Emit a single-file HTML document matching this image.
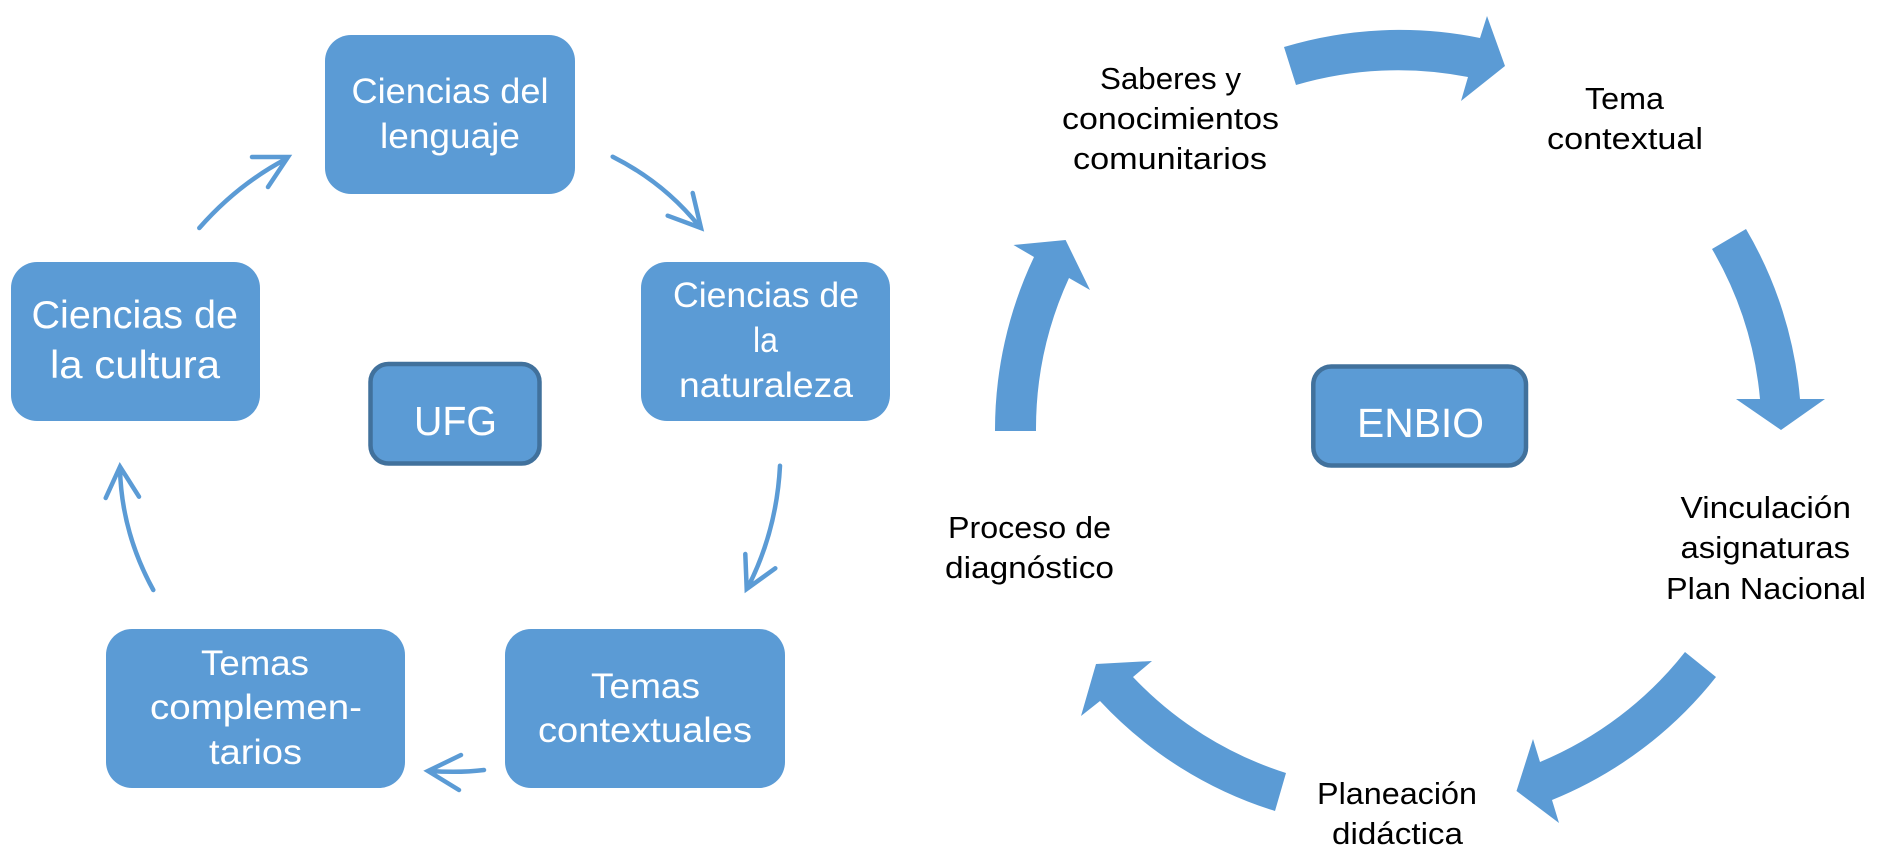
<!DOCTYPE html>
<html lang="es">
<head>
<meta charset="utf-8">
<title>UFG y ENBIO</title>
<style>
html,body{margin:0;padding:0;background:#fff;width:1889px;height:856px;overflow:hidden}
svg{display:block}
text{font-family:"Liberation Sans",sans-serif}
.w{fill:#fff;font-size:35.5px}
.b{fill:#000;font-size:31px}
.thin{fill:none;stroke:#5b9bd5;stroke-width:4.5;stroke-linecap:round;stroke-linejoin:miter}
</style>
</head>
<body>
<svg width="1889" height="856" viewBox="0 0 1889 856" xmlns="http://www.w3.org/2000/svg">
<rect width="1889" height="856" fill="#fff"/>

<!-- left cycle boxes -->
<g fill="#5b9bd5">
<rect x="325" y="35" width="250" height="159" rx="26" ry="26"/>
<rect x="11" y="262" width="249" height="159" rx="26" ry="26"/>
<rect x="641" y="262" width="249" height="159" rx="26" ry="26"/>
<rect x="106" y="629" width="299" height="159" rx="26" ry="26"/>
<rect x="505" y="629" width="280" height="159" rx="26" ry="26"/>
</g>
<rect x="370.5" y="364" width="169" height="99.5" rx="18" ry="18" fill="#5b9bd5" stroke="#41719c" stroke-width="4.5"/>
<rect x="1313.3" y="366.5" width="212.7" height="99" rx="18" ry="18" fill="#5b9bd5" stroke="#41719c" stroke-width="4.5"/>

<!-- left cycle thin arrows -->
<path class="thin" d="M199.300 228Q237.500 184.500 286 159M252 157L288 157L268 187"/>
<path class="thin" d="M612.700 156.700Q664 182.600 699 226M692.700 193L701 228L667.700 215.700"/>
<path class="thin" d="M780 465.700Q776.700 530.700 748 587M745.300 554L746.700 589L775.300 568.300"/>
<path class="thin" d="M484 770Q460 773 430 771M461 755L428 771L459 790"/>
<path class="thin" d="M153.300 590Q121.500 532 120 469M105.700 498L120 466.700L139 496.700"/>

<!-- right cycle thick arrows -->
<g fill="#5b9bd5">
<path d="M1284 47A401 401 0 0 1 1480 38L1487 16L1505 66L1461 101L1468 77A361 361 0 0 0 1296 85Z"/>
<path d="M1746 229A401 401 0 0 1 1800 399L1825 399L1781 430L1736 399L1760 399A361 361 0 0 0 1712 249Z"/>
<path d="M1716 677A401 401 0 0 1 1552 800L1559 823L1516.500 791L1533 739L1540 762A361 361 0 0 0 1685 652Z"/>
<path d="M1275 811A401 401 0 0 1 1100 701L1081 716L1096 664L1152 661L1133 677A361 361 0 0 0 1286 773Z"/>
<path d="M995 431A403 403 0 0 1 1034 257L1013.500 245L1065.600 240L1090 290L1069 278A361 361 0 0 0 1036 431Z"/>
</g>

<!-- white labels -->
<text class="w" x="351.500" y="103" textLength="197" lengthAdjust="spacingAndGlyphs">Ciencias del</text>
<text class="w" x="380" y="148" textLength="140" lengthAdjust="spacingAndGlyphs">lenguaje</text>
<text class="w" style="font-size:39px" x="31.500" y="328" textLength="206.500" lengthAdjust="spacingAndGlyphs">Ciencias de</text>
<text class="w" style="font-size:39px" x="50" y="378" textLength="170" lengthAdjust="spacingAndGlyphs">la cultura</text>
<text class="w" x="673" y="307" textLength="186" lengthAdjust="spacingAndGlyphs">Ciencias de</text>
<text class="w" x="753" y="352" textLength="25" lengthAdjust="spacingAndGlyphs">la</text>
<text class="w" x="679" y="397" textLength="174" lengthAdjust="spacingAndGlyphs">naturaleza</text>
<text class="w" x="201" y="675" textLength="108" lengthAdjust="spacingAndGlyphs">Temas</text>
<text class="w" x="150" y="719" textLength="212" lengthAdjust="spacingAndGlyphs">complemen-</text>
<text class="w" x="209" y="764" textLength="93" lengthAdjust="spacingAndGlyphs">tarios</text>
<text class="w" x="591" y="698" textLength="109" lengthAdjust="spacingAndGlyphs">Temas</text>
<text class="w" x="538" y="742" textLength="214" lengthAdjust="spacingAndGlyphs">contextuales</text>
<text class="w" style="font-size:41px" x="414" y="435" textLength="83" lengthAdjust="spacingAndGlyphs">UFG</text>
<text class="w" style="font-size:41px" x="1357" y="437" textLength="127" lengthAdjust="spacingAndGlyphs">ENBIO</text>

<!-- black labels -->
<text class="b" x="1100" y="89" textLength="141" lengthAdjust="spacingAndGlyphs">Saberes y</text>
<text class="b" x="1062" y="129" textLength="217" lengthAdjust="spacingAndGlyphs">conocimientos</text>
<text class="b" x="1073" y="169" textLength="194" lengthAdjust="spacingAndGlyphs">comunitarios</text>
<text class="b" x="1585" y="109" textLength="79" lengthAdjust="spacingAndGlyphs">Tema</text>
<text class="b" x="1547" y="149" textLength="156" lengthAdjust="spacingAndGlyphs">contextual</text>
<text class="b" x="1680.500" y="518" textLength="170.500" lengthAdjust="spacingAndGlyphs">Vinculación</text>
<text class="b" x="1680.500" y="558" textLength="169.500" lengthAdjust="spacingAndGlyphs">asignaturas</text>
<text class="b" x="1666" y="599" textLength="200" lengthAdjust="spacingAndGlyphs">Plan Nacional</text>
<text class="b" x="1317" y="804" textLength="160" lengthAdjust="spacingAndGlyphs">Planeación</text>
<text class="b" x="1332" y="844" textLength="131" lengthAdjust="spacingAndGlyphs">didáctica</text>
<text class="b" x="948" y="538" textLength="163" lengthAdjust="spacingAndGlyphs">Proceso de</text>
<text class="b" x="945" y="578" textLength="169" lengthAdjust="spacingAndGlyphs">diagnóstico</text>
</svg>
</body>
</html>
